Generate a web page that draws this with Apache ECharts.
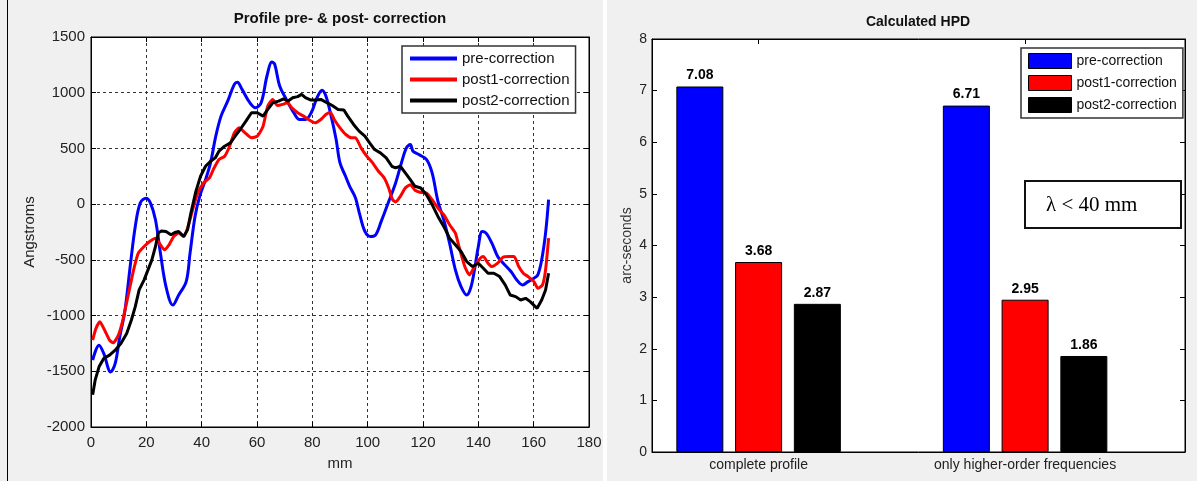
<!DOCTYPE html>
<html><head><meta charset="utf-8">
<script src="https://cdn.jsdelivr.net/npm/echarts@6/dist/echarts.min.js"></script>
<style>html,body{margin:0;padding:0;background:#f0f0f0}#c{width:1197px;height:481px}</style>
</head><body><div id="c"></div>
<script>
// ---- left panel: profiles (mm vs Angstroms) ----
const seriesNames = ['pre-correction', 'post1-correction', 'post2-correction'];
const preX = [0.6,2.9,4.6,7.1,8.75,10.4,12.2,14.3,16,17.8,19.9,21.5,23.3,25.1,27.1,29.6,31.7,34.4,35.8,37.6,39.3,41.4,43.2,45.1,47,49.4,51.8,52.9,54.6,57.4,59.4,61.5,63.6,65.4,66.4,68.2,70.6,73.3,75.4,77.5,79.6,81.7,83.5,84.9,86.8,88.6,90,92,93.5,95.6,97,99,101,102.9,104.9,107.4,110.1,112.2,114,115.4,116.4,118.5,121.3,123.3,125.4,127.5,129.6,131.7,133.75,135.8,137.2,138.6,140,141.4,142.8,144.9,147,149,151.8,153.9,156,158,160.1,161.5,162.9,164.3,165.4];
const preY = [-1400,-1266,-1340,-1506,-1430,-1190,-966,-530,-200,10,54,10,-140,-440,-740,-906,-816,-696,-440,-110,70,220,370,610,790,925,1075,1095,1030,910,865,910,1150,1275,1255,1060,940,820,760,760,820,955,1023,970,790,580,370,250,160,55,-80,-245,-290,-275,-155,10,190,370,505,535,475,445,400,280,25,-140,-350,-590,-740,-815,-755,-590,-380,-245,-260,-350,-470,-530,-605,-680,-725,-695,-665,-635,-500,-260,40];
const post1X = [0.6,1.8,3.2,4.9,6.7,8,9.9,11.5,13.6,15.4,17.1,19.2,21.2,23.3,24.7,26.5,28.2,29.9,31.7,33.5,35.1,36.9,38.6,40.7,42.8,44.2,46.25,48.3,50.1,51.8,53.5,55.7,58,60.1,62.2,63.9,65.7,67.4,69.2,71,72.6,74.7,76.8,78.9,81,83.1,84.9,86.5,87.9,90,92.1,94.2,95.6,97.6,99.7,101.8,103.9,106,107.6,109,110.1,111.8,113.6,115.4,117.1,119.2,121.25,123.3,125.4,127.5,129.6,131.7,133,135.1,136.8,138.6,140.7,141.8,143.5,144.9,147,149,151.1,152.9,154.6,156.25,158,160.1,161.5,163.2,164.3,165.4];
const post1Y = [-1220,-1115,-1055,-1130,-1220,-1245,-1175,-1040,-800,-590,-440,-380,-335,-305,-350,-410,-365,-290,-260,-290,-200,-35,100,190,235,310,400,430,520,640,685,640,595,610,700,880,940,885,895,910,865,820,790,755,730,760,805,825,760,685,625,595,595,505,430,370,295,235,145,40,20,70,145,175,125,105,100,40,-35,-95,-185,-260,-380,-560,-635,-560,-485,-470,-530,-560,-530,-475,-470,-470,-560,-620,-650,-695,-755,-725,-590,-305];
const post2X = [0.6,1.5,2.9,4.6,6.7,8.75,10.8,12.9,14.6,16,17.4,19.2,20.6,22,23.3,24.3,25.4,27.1,28.9,30.3,31.7,33.5,34.9,36.1,37.9,39.6,41.4,43.2,44.9,46.25,48.3,50.4,52.1,53.9,56,58,60.1,62.2,63.9,65.7,67.8,69.6,71.25,72.9,74.7,76.1,77.5,79.3,81.25,83.1,84.9,87.2,89.3,91.4,92.8,94.9,96.9,99,100.7,102.5,104.6,106.7,108.75,110.1,111.8,113.6,115.4,117.1,119.2,121.25,123.3,125.4,127.5,129.6,131.7,133.75,135.8,137.9,140,141.8,143.5,145.6,147.7,149.7,151.5,153.5,155.3,157.1,158.75,160.4,161.25,162.9,164.3,165.4];
const post2Y = [-1710,-1580,-1460,-1385,-1355,-1310,-1250,-1160,-1040,-920,-770,-680,-590,-500,-380,-260,-240,-245,-275,-255,-245,-290,-230,-80,115,250,340,385,415,475,520,550,610,670,745,820,820,790,850,910,925,945,925,955,965,985,955,935,935,940,915,885,850,845,790,715,655,610,550,490,460,415,340,325,340,280,220,160,145,85,-5,-110,-200,-305,-365,-425,-515,-560,-530,-575,-620,-620,-650,-725,-815,-830,-860,-845,-875,-915,-935,-860,-770,-620];

// ---- right panel: calculated HPD (arc-seconds) ----
const hpdCategories = ['complete profile', 'only higher-order frequencies'];
const hpdPre = [7.08, 6.71];
const hpdPost1 = [3.68, 2.95];
const hpdPost2 = [2.87, 1.86];

const colors = ['#0000ff', '#ff0000', '#000000'];
const FONT = '"Liberation Sans", Arial, sans-serif';
const pair = (xs, ys) => xs.map((x, i) => [x, ys[i]]);
const catPos = hpdCategories.map((c, i) => i + 1);
const plain = v => String(v);

const tickStyle = { inside: true, length: 5, lineStyle: { color: '#000', width: 1 } };
const lineAxis = { show: true, onZero: false, lineStyle: { color: '#000', width: 1 } };
const dash = { show: true, lineStyle: { color: '#333', width: 1, type: [3, 3] } };

const chart = echarts.init(document.getElementById('c'));
chart.setOption({
  animation: false,
  backgroundColor: '#f0f0f0',
  textStyle: { fontFamily: FONT },
  grid: [
    { left: 91, top: 37, width: 498, height: 390, show: true, backgroundColor: '#fff', borderColor: '#000', borderWidth: 1, outerBoundsMode: 'none' },
    { left: 652, top: 39, width: 533, height: 413, show: true, backgroundColor: '#fff', borderColor: '#000', borderWidth: 1, outerBoundsMode: 'none' }
  ],
  xAxis: [
    { type: 'value', gridIndex: 0, position: 'bottom', min: 0, max: 180, interval: 20,
      name: 'mm', nameLocation: 'middle', nameGap: 29, nameTextStyle: { fontSize: 15, color: '#222', fontFamily: FONT },
      axisLine: lineAxis, axisTick: tickStyle, splitLine: dash,
      axisLabel: { fontSize: 15, color: '#222', margin: 8, fontFamily: FONT, formatter: plain } },
    { type: 'value', gridIndex: 0, position: 'top', min: 0, max: 180, interval: 20,
      axisLine: lineAxis, axisTick: tickStyle, splitLine: { show: false }, axisLabel: { show: false } },
    { type: 'value', gridIndex: 1, position: 'bottom', min: 0.6, max: 2.6, interval: 0.2,
      axisLine: lineAxis, splitLine: { show: false },
      axisTick: Object.assign({ customValues: catPos }, tickStyle),
      axisLabel: { customValues: catPos, fontSize: 14, color: '#222', margin: 6, fontFamily: FONT,
        formatter: v => hpdCategories[Math.round(v) - 1] || '' } },
    { type: 'value', gridIndex: 1, position: 'top', min: 0.6, max: 2.6, interval: 0.2,
      axisLine: lineAxis, splitLine: { show: false },
      axisTick: Object.assign({ customValues: catPos }, tickStyle),
      axisLabel: { show: false } }
  ],
  yAxis: [
    { type: 'value', gridIndex: 0, position: 'left', min: -2000, max: 1500, interval: 500,
      name: 'Angstroms', nameLocation: 'middle', nameGap: 54, nameTextStyle: { fontSize: 15, color: '#222', fontFamily: FONT },
      axisLine: lineAxis, axisTick: tickStyle, splitLine: dash,
      axisLabel: { fontSize: 15, color: '#222', margin: 6, fontFamily: FONT, formatter: plain } },
    { type: 'value', gridIndex: 0, position: 'right', min: -2000, max: 1500, interval: 500,
      axisLine: lineAxis, axisTick: tickStyle, splitLine: { show: false }, axisLabel: { show: false } },
    { type: 'value', gridIndex: 1, position: 'left', min: 0, max: 8, interval: 1,
      name: 'arc-seconds', nameLocation: 'middle', nameGap: 18, nameTextStyle: { fontSize: 14, color: '#333', fontFamily: FONT },
      axisLine: lineAxis, axisTick: tickStyle, splitLine: { show: false },
      axisLabel: { fontSize: 14, color: '#222', margin: 5, fontFamily: FONT } },
    { type: 'value', gridIndex: 1, position: 'right', min: 0, max: 8, interval: 1,
      axisLine: lineAxis, axisTick: tickStyle, splitLine: { show: false }, axisLabel: { show: false } }
  ],
  legend: [
    { data: seriesNames, orient: 'vertical', left: 402, top: 46, icon: 'rect', itemWidth: 47, itemHeight: 4, itemGap: 4,
      padding: [4, 6, 4, 8], backgroundColor: '#fff', borderColor: '#333', borderWidth: 1.5, selectedMode: false,
      itemStyle: { borderWidth: 0 },
      textStyle: { fontSize: 15, color: '#111', lineHeight: 17, fontFamily: FONT } },
    { data: seriesNames, orient: 'vertical', left: 1021, top: 48, icon: 'rect', itemWidth: 43, itemHeight: 15, itemGap: 6,
      padding: [5, 6, 5, 7], backgroundColor: '#fff', borderColor: '#333', borderWidth: 1.5, selectedMode: false,
      itemStyle: { borderColor: '#000', borderWidth: 1 },
      textStyle: { fontSize: 14, color: '#111', fontFamily: FONT } }
  ],
  series: [
    { name: seriesNames[0], type: 'line', xAxisIndex: 0, yAxisIndex: 0, data: pair(preX, preY), showSymbol: false, symbol: 'none', smooth: 0.35, color: colors[0], lineStyle: { width: 3, color: colors[0] }, z: 3 },
    { name: seriesNames[1], type: 'line', xAxisIndex: 0, yAxisIndex: 0, data: pair(post1X, post1Y), showSymbol: false, symbol: 'none', smooth: 0.2, color: colors[1], lineStyle: { width: 3, color: colors[1] }, z: 4 },
    { name: seriesNames[2], type: 'line', xAxisIndex: 0, yAxisIndex: 0, data: pair(post2X, post2Y), showSymbol: false, symbol: 'none', color: colors[2], lineStyle: { width: 3, color: colors[2] }, z: 5 },
    ...[hpdPre, hpdPost1, hpdPost2].map((vals, k) => ({
      name: seriesNames[k], type: 'bar', xAxisIndex: 2, yAxisIndex: 2,
      data: vals.map((v, i) => [catPos[i], v]),
      barWidth: 47, barGap: '25%',
      itemStyle: { color: colors[k], borderColor: '#000', borderWidth: 1 },
      label: { show: true, position: 'top', distance: 4, fontSize: 14, fontWeight: 'bold', color: '#000', fontFamily: FONT,
        formatter: p => p.value[1].toFixed(2) }
    }))
  ],
  graphic: [
    { type: 'rect', shape: { x: 603, y: 0, width: 4, height: 481 }, style: { fill: '#fff' }, z: -10 },
    { type: 'line', shape: { x1: 7.5, y1: 0, x2: 7.5, y2: 481 }, style: { stroke: '#000', lineWidth: 1 } },
    { type: 'text', x: 340, y: 19, style: { text: 'Profile pre- & post- correction', fontSize: 15, fontWeight: 'bold', fontFamily: FONT, fill: '#111', textAlign: 'center', textVerticalAlign: 'middle' } },
    { type: 'text', x: 918, y: 22, style: { text: 'Calculated HPD', fontSize: 14, fontWeight: 'bold', fontFamily: FONT, fill: '#111', textAlign: 'center', textVerticalAlign: 'middle' } },
    { type: 'rect', z: 100, shape: { x: 1025, y: 181, width: 156, height: 47 }, style: { fill: '#fff', stroke: '#111', lineWidth: 2 } },
    { type: 'text', z: 101, x: 1046, y: 205, style: { text: 'λ < 40 mm', fontSize: 21, fontFamily: '"Liberation Serif", "Times New Roman", serif', fill: '#000', textVerticalAlign: 'middle' } }
  ]
});
</script>
</body></html>
